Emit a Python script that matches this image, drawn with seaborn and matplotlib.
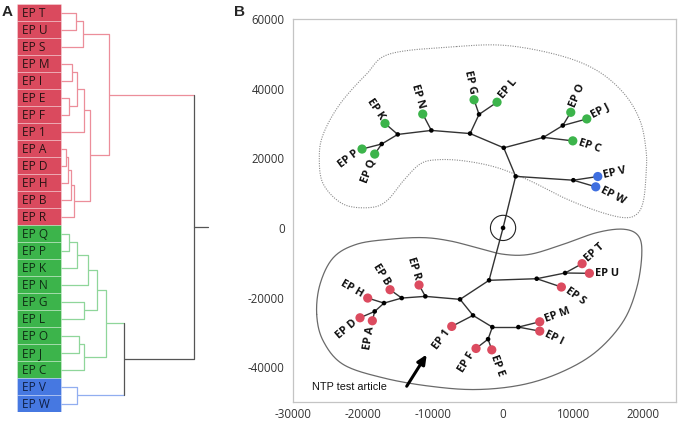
import numpy as np
import pandas as pd
import matplotlib
matplotlib.use("Agg")
import matplotlib.pyplot as plt
import seaborn as sns
from matplotlib.collections import LineCollection

sns.set_style("white")
plt.rcParams['font.family'] = ['Open Sans', 'DejaVu Sans']

# ---------------- Panel A data ----------------
leaves = ["EP T", "EP U", "EP S", "EP M", "EP I", "EP E", "EP F", "EP 1", "EP A", "EP D",
          "EP H", "EP B", "EP R", "EP Q", "EP P", "EP K", "EP N", "EP G", "EP L", "EP O",
          "EP J", "EP C", "EP V", "EP W"]
leaf_cluster = ["red"] * 13 + ["green"] * 9 + ["blue"] * 2
# linkage: (left, right, height) ; internal nodes are named n0, n1, ...
merges = [
    ("EP T", "EP U", 15.0), ("n0", "EP S", 22.3), ("EP M", "EP I", 10.7), ("EP E", "EP F", 8.3),
    ("n2", "n3", 16.3), ("n4", "EP 1", 23.0), ("EP A", "EP D", 4.7), ("n6", "EP H", 6.7),
    ("n7", "EP B", 10.0), ("n8", "EP R", 13.0), ("n5", "n9", 29.0), ("n1", "n10", 48.3),
    ("EP Q", "EP P", 8.3), ("n12", "EP K", 15.7), ("n13", "EP N", 27.3), ("EP G", "EP L", 23.0),
    ("n14", "n15", 35.7), ("EP O", "EP J", 18.3), ("n17", "EP C", 23.3), ("n16", "n18", 44.7),
    ("EP V", "EP W", 15.7), ("n19", "n20", 63.3), ("n11", "n21", 133.3),
]
root_height = 147.3

box_col = {"red": "#da4a5e", "green": "#3cb44b", "blue": "#4678e1"}
line_col = {"red": "#ec8e9a", "green": "#8fd69a", "blue": "#91aef0", None: "#555555"}

# ---------------- Panel B data ----------------
node_names = ["R0", "U1", "U2", "U3", "U4", "U5", "U6", "U7", "U8", "U9", "U10",
              "L1", "L2", "L3", "L4", "L5", "L6", "L7", "L8", "L9", "L10", "L11", "L12"]
node_x = [0, 1800, 100, 5760, 8530, 10040, -4710, -3430, -10240, -15040, -17330,
          -2000, 4810, 8860, -6140, -4290, -1530, 2190, -2140, -11100, -14470, -17000, -18330]
node_y = [0, 14800, 23000, 26000, 29400, 13700, 27100, 32600, 28000, 26850, 24100,
          -15050, -14590, -12950, -20520, -25130, -28490, -28490, -31950, -19660, -20150, -21590, -23980]

tip_names = ["EP O", "EP J", "EP C", "EP V", "EP W", "EP G", "EP L", "EP N", "EP K", "EP P", "EP Q",
             "EP T", "EP U", "EP S", "EP 1", "EP M", "EP I", "EP F", "EP E", "EP R", "EP B", "EP H",
             "EP D", "EP A"]
tip_x = [9670, 11960, 9960, 13530, 13240, -4140, -860, -11470, -16860, -20140, -18330,
         11290, 12330, 8330, -7330, 5240, 5240, -3860, -1610, -12000, -16140, -19330, -20430, -18670]
tip_y = [33200, 31300, 25000, 14760, 11800, 36800, 36100, 32700, 30000, 22650, 21200,
         -10270, -13040, -16980, -28290, -26960, -29640, -34620, -35020, -16400, -17750, -20150,
         -25810, -26670]
tip_group = ["green", "green", "green", "blue", "blue", "green", "green", "green", "green", "green", "green",
             "red", "red", "red", "red", "red", "red", "red", "red", "red", "red", "red", "red", "red"]
tip_rot = [67, 28, -18, 13, -27, -78, 50, -74, -56, 37, 69,
           42, 0, -35, 53, 20, -26, 58, -70, -73, -58, -30, 40, 81]
tip_side = ["out", "out", "out", "out", "out", "in", "out", "in", "in", "in", "in",
            "out", "out", "out", "in", "out", "out", "in", "out", "in", "in", "in", "in", "in"]

edges = [("R0", "U1"), ("U1", "U2"), ("U1", "U5"), ("U5", "EP V"), ("U5", "EP W"), ("U2", "U3"),
         ("U3", "U4"), ("U4", "EP O"), ("U4", "EP J"), ("U3", "EP C"), ("U2", "U6"), ("U6", "U7"),
         ("U7", "EP G"), ("U7", "EP L"), ("U6", "U8"), ("U8", "EP N"), ("U8", "U9"), ("U9", "EP K"),
         ("U9", "U10"), ("U10", "EP P"), ("U10", "EP Q"),
         ("R0", "L1"), ("L1", "L2"), ("L2", "L3"), ("L3", "EP T"), ("L3", "EP U"), ("L2", "EP S"),
         ("L1", "L4"), ("L4", "L5"), ("L5", "EP 1"), ("L5", "L6"), ("L6", "L7"), ("L7", "EP M"),
         ("L7", "EP I"), ("L6", "L8"), ("L8", "EP F"), ("L8", "EP E"), ("L4", "L9"), ("L9", "EP R"),
         ("L9", "L10"), ("L10", "EP B"), ("L10", "L11"), ("L11", "EP H"), ("L11", "L12"),
         ("L12", "EP D"), ("L12", "EP A")]

# group outlines
upper_x = [-6614, -16143, -19472, -23286, -25672, -26243, -25672, -22815, -19000, -16615, -14243,
           -11857, -9472, -5672, -900, 3857, 8614, 13386, 17186, 19100, 20043, 20430, 20430, 19570,
           17286, 13430, 8143, 529]
upper_y = [52090, 49990, 44240, 35600, 26970, 20230, 12580, 6820, 5840, 7770, 13530,
           18330, 19570, 19280, 17350, 13530, 8720, 4890, 2960, 3940, 7770, 15540, 22160, 30790,
           38570, 45180, 49500, 52380]
lower_x = [-26615, -26143, -24243, -20900, -16143, -11386, -7572, -3757, 43, 3857, 8614, 13386,
           17186, 19329, 19815, 19100, 17186, 13386, 8614, 2900, -3757, -10429, -17100, -22815, -25672]
lower_y = [-24840, -16200, -8550, -4690, -3250, -2790, -3740, -5670, -7570, -7570, -4690, -1350,
           -370, -2300, -7570, -17180, -26770, -35400, -41160, -44980, -46420, -45470, -43080, -39230,
           -32520]

arrow_tail = (-13760, -45470)
arrow_head = (-10900, -36350)
arrow_text = "NTP test article"

x_ticks = [-30000, -20000, -10000, 0, 10000, 20000]
y_ticks = [-40000, -20000, 0, 20000, 40000, 60000]

# ---------------- Figure ----------------
W, H = 680, 422
fig = plt.figure(figsize=(W / 100, H / 100), dpi=100)

# ----- Panel A -----
axA = fig.add_axes([17 / W, 1 - 412 / H, (211 - 17) / W, (412 - 4) / H])
n = len(leaves)
pos = {lf: (0.0, float(i)) for i, lf in enumerate(leaves)}
members = {lf: {leaf_cluster[i]} for i, lf in enumerate(leaves)}
df_a = pd.DataFrame({"leaf": leaves, "row": range(n), "cluster": leaf_cluster})
axA.barh(df_a["row"], 44, left=-44, height=1.0,
         color=[box_col[c] for c in df_a["cluster"]],
         edgecolor=(1, 1, 1, 0.35), linewidth=0.6)
txt_col = {"red": "#2a1414", "green": "#0f2e14", "blue": "#0f1f45"}
for i, lf in enumerate(leaves):
    axA.text(-39.5, i + 0.05, lf, ha="left", va="center", fontsize=8.6,
             color=txt_col[leaf_cluster[i]])


def col_of(name):
    s = members[name]
    return list(s)[0] if len(s) == 1 else None


last = None
for k, (a, b, h) in enumerate(merges):
    nm = f"n{k}"
    for c in (a, b):
        cx, cy = pos[c]
        axA.plot([cx, h], [cy, cy], color=line_col[col_of(c)], lw=0.9, solid_capstyle="butt")
    members[nm] = members[a] | members[b]
    axA.plot([h, h], [pos[a][1], pos[b][1]], color=line_col[col_of(nm)], lw=0.9)
    pos[nm] = (h, (pos[a][1] + pos[b][1]) / 2)
    last = nm
axA.plot([pos[last][0], root_height], [pos[last][1]] * 2, color="#555555", lw=0.9)
axA.set_xlim(-44, 150)
axA.set_ylim(n - 0.5, -0.5)
axA.axis("off")

# ----- Panel B -----
axB = fig.add_axes([293 / W, 1 - 402 / H, (676 - 293) / W, (402 - 19) / H])
coords = {nm: (x, y) for nm, x, y in zip(node_names, node_x, node_y)}
coords.update({nm: (x, y) for nm, x, y in zip(tip_names, tip_x, tip_y)})


def smooth_closed(xs, ys, m=24):
    P = np.column_stack([xs, ys]).astype(float)
    N = len(P)
    t = np.linspace(0, 1, m, endpoint=False)[:, None]
    out = []
    for i in range(N):
        p0, p1, p2, p3 = P[i - 1], P[i], P[(i + 1) % N], P[(i + 2) % N]
        out.append(0.5 * ((2 * p1) + (-p0 + p2) * t + (2 * p0 - 5 * p1 + 4 * p2 - p3) * t ** 2
                          + (-p0 + 3 * p1 - 3 * p2 + p3) * t ** 3))
    out = np.vstack(out)
    return np.vstack([out, out[:1]])


up = smooth_closed(upper_x, upper_y)
axB.plot(up[:, 0], up[:, 1], ls=(0, (1, 1.2)), color="#8a8a8a", lw=0.8)
lo = smooth_closed(lower_x, lower_y)
axB.plot(lo[:, 0], lo[:, 1], color="#6a6a6a", lw=0.9)

segs = [[coords[a], coords[b]] for a, b in edges]
axB.add_collection(LineCollection(segs, colors="#333333", linewidths=1.0, zorder=2))

df_nodes = pd.DataFrame({"x": node_x, "y": node_y})
sns.scatterplot(data=df_nodes, x="x", y="y", color="black", s=11, edgecolor="none", ax=axB, zorder=3)
# root circle
axB.scatter([node_x[0]], [node_y[0]], s=330, facecolor="none", edgecolor="#222222", linewidth=0.8, zorder=3)

df_tips = pd.DataFrame({"x": tip_x, "y": tip_y, "group": tip_group})
sns.scatterplot(data=df_tips, x="x", y="y", hue="group",
                palette={"red": "#dc4b5f", "green": "#3cb44b", "blue": "#3f6fe0"},
                s=44, edgecolor="none", legend=False, ax=axB, zorder=4)

for nm, x, y, r, side in zip(tip_names, tip_x, tip_y, tip_rot, tip_side):
    th = np.deg2rad(r)
    d = 4.2 if side == "out" else -4.2
    axB.annotate(nm, (x, y), xytext=(d * np.cos(th), d * np.sin(th)), textcoords="offset points",
                 rotation=r, rotation_mode="anchor", ha="left" if side == "out" else "right",
                 va="center", fontsize=7.9, fontweight="bold", color="#111111", zorder=5)

axB.annotate("", xy=arrow_head, xytext=arrow_tail,
             arrowprops=dict(arrowstyle="-|>,head_length=0.55,head_width=0.25", color="black", lw=2.2,
                             shrinkA=0, shrinkB=0))
axB.text(-27300, -45600, arrow_text, ha="left", va="center", fontsize=7.8, color="#111111",
         family=["Liberation Sans", "DejaVu Sans"])

axB.set_xlim(-30000, 24700)
axB.set_ylim(-50000, 60000)
axB.set_xticks(x_ticks)
axB.set_yticks(y_ticks)
axB.set_xticks(np.arange(-25000, 24700, 10000), minor=True)
axB.set_yticks(np.arange(-50000, 60000, 20000), minor=True)
axB.set_xticklabels([str(v) for v in x_ticks])
axB.set_yticklabels([str(v) for v in y_ticks])
axB.set_xlabel("")
axB.set_ylabel("")
for sp in axB.spines.values():
    sp.set_color("#c4c4c4")
    sp.set_linewidth(0.9)
axB.tick_params(axis="both", which="major", direction="out", length=4, width=0.8, color="#b0b0b0",
                labelsize=8.3, labelcolor="#333333", pad=2)
axB.tick_params(axis="x", which="major", pad=0.5)
axB.tick_params(axis="both", which="minor", direction="out", length=3, width=0.7, color="#c0c0c0")

fig.text(2 / W, 1 - 12 / H, "A", fontsize=11, fontweight="bold", va="center", ha="left",
         family=["Liberation Sans", "DejaVu Sans"])
fig.text(234 / W, 1 - 12 / H, "B", fontsize=11, fontweight="bold", va="center", ha="left",
         family=["Liberation Sans", "DejaVu Sans"])

fig.savefig("out.png", dpi=100)
